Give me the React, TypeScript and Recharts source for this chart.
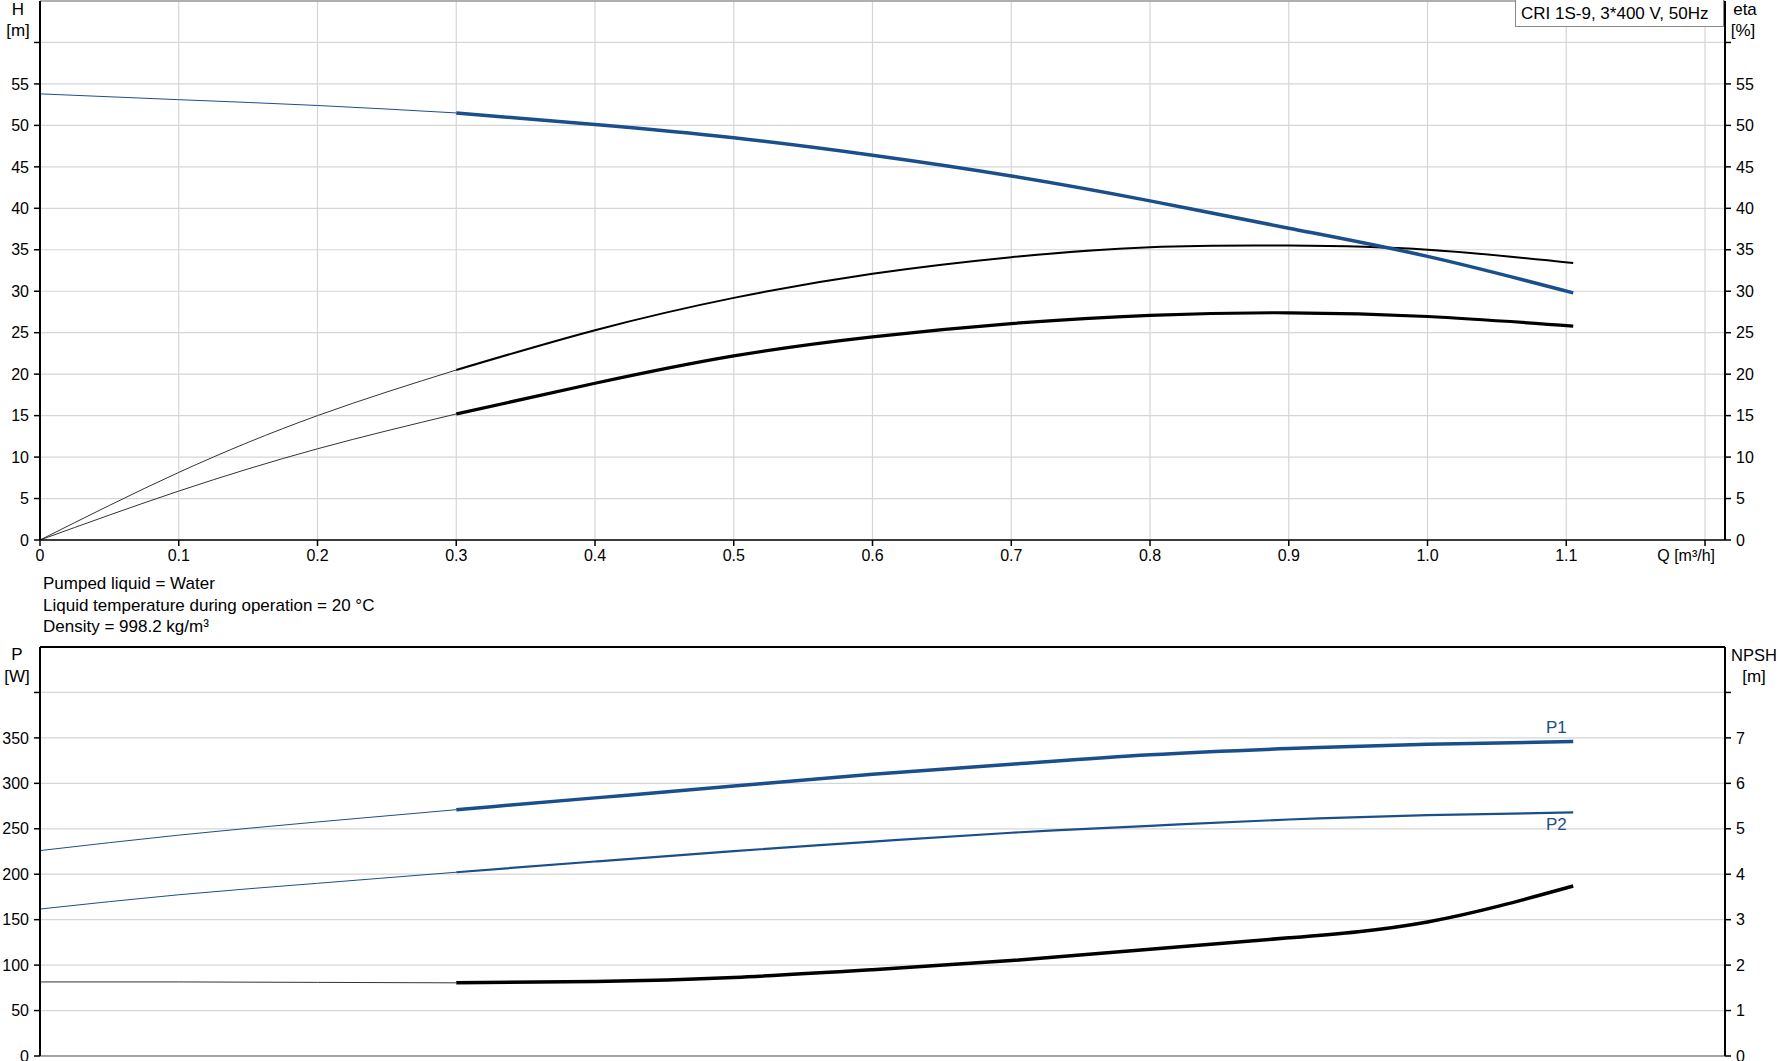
import React from "react";
import { LineChart, Line, XAxis, YAxis, CartesianGrid, ReferenceLine } from "recharts";

const FONT = "'Liberation Sans', Arial, sans-serif";
const BLUE = "#1a4f8c";

// flow rates Q [m³/h]
const flowThin = [0, 0.1, 0.2, 0.3];
const flowMain = [0.3, 0.4, 0.5, 0.6, 0.7, 0.8, 0.9, 1.0, 1.105];

// head H [m]
const headThin = [53.8, 53.1, 52.4, 51.5];
const headMain = [51.5, 50.1, 48.5, 46.4, 43.9, 40.9, 37.6, 34.2, 29.8];

// efficiency eta [%]
const etaPumpThin = [0, 8.15, 15.0, 20.5];
const etaPumpMain = [20.5, 25.3, 29.2, 32.1, 34.1, 35.3, 35.5, 35.0, 33.4];
const etaTotalThin = [0, 5.9, 11.0, 15.2];
const etaTotalMain = [15.2, 18.9, 22.2, 24.5, 26.1, 27.1, 27.4, 26.95, 25.8];

// power P [W]
const p1Thin = [226, 243, 257.5, 271];
const p1Main = [271, 284, 297, 310, 321, 331.4, 338.3, 343.1, 346];
const p2Thin = [161.7, 177.4, 190, 202.2];
const p2Main = [202.2, 214, 225.5, 235.8, 245.6, 253.3, 260.2, 265, 268];

// NPSH [m]
const npshThin = [1.63, 1.63, 1.62, 1.61];
const npshMain = [1.61, 1.64, 1.73, 1.9, 2.1, 2.35, 2.6, 2.95, 3.74];

const qTicks = [0, 0.1, 0.2, 0.3, 0.4, 0.5, 0.6, 0.7, 0.8, 0.9, 1.0, 1.1, 1.2];
const hTicks = [0, 5, 10, 15, 20, 25, 30, 35, 40, 45, 50, 55, 60];
const pTicks = [0, 50, 100, 150, 200, 250, 300, 350, 400];
const npshTicks = [0, 1, 2, 3, 4, 5, 6, 7, 8];

const pts = (q: number[], v: number[]) => q.map((x, i) => ({ q: x, v: v[i] }));

const tickStyle = { fill: "#000", fontSize: 16, fontFamily: FONT };
const axisBlack = { stroke: "#000", strokeWidth: 2 };
const tickBlack = { stroke: "#000", strokeWidth: 1.5 };

function QTick(props: any) {
  const { x, y, payload } = props;
  const v = payload.value;
  const last = v > 1.15;
  const label = v === 0 ? "0" : last ? "Q [m³/h]" : v.toFixed(1);
  return (
    <text x={last ? x + 10 : x} y={y} dy="0.71em" textAnchor={last ? "end" : "middle"} {...tickStyle}>
      {label}
    </text>
  );
}

const hideLast = (top: number) => (v: number) => (v === top ? "" : String(v));

const abs = (left: number, top: number, extra: React.CSSProperties = {}): React.CSSProperties => ({
  position: "absolute",
  left,
  top,
  fontFamily: FONT,
  fontSize: 17,
  lineHeight: "20px",
  color: "#000",
  whiteSpace: "nowrap",
  ...extra,
});

function curve(data: { q: number; v: number }[], axis: string, color: string, width: number, key: string) {
  return (
    <Line
      key={key}
      data={data}
      dataKey="v"
      yAxisId={axis}
      type="natural"
      stroke={color}
      strokeWidth={width}
      dot={false}
      activeDot={false}
      isAnimationActive={false}
    />
  );
}

export default function App() {
  return (
    <div style={{ position: "absolute", left: 0, top: 0, width: 1779, height: 1061, background: "#fff", overflow: "hidden" }}>
      {/* upper chart: H and eta */}
      <div style={{ position: "absolute", left: 0, top: 0 }}>
        <LineChart width={1779} height={580} margin={{ top: 1, right: 0, bottom: 0, left: 0 }}>
          <CartesianGrid yAxisId="left" stroke="#d6d6d6" strokeWidth={1.2} />
          <XAxis
            type="number"
            dataKey="q"
            domain={[0, 1.2144]}
            ticks={qTicks}
            allowDataOverflow
            interval={0}
            height={40}
            tick={<QTick />}
            tickSize={6}
            tickMargin={4}
            axisLine={{ stroke: "#000", strokeWidth: 1.5 }}
            tickLine={tickBlack}
          />
          <YAxis
            yAxisId="left"
            domain={[0, 65]}
            ticks={hTicks}
            allowDataOverflow
            interval={0}
            width={40}
            tick={tickStyle}
            tickFormatter={hideLast(60)}
            tickSize={6}
            tickMargin={5}
            axisLine={axisBlack}
            tickLine={tickBlack}
          />
          <YAxis
            yAxisId="right"
            orientation="right"
            domain={[0, 65]}
            ticks={hTicks}
            allowDataOverflow
            interval={0}
            width={54}
            tick={tickStyle}
            tickFormatter={hideLast(60)}
            tickSize={6}
            tickMargin={5}
            axisLine={axisBlack}
            tickLine={tickBlack}
          />
          <ReferenceLine yAxisId="left" y={65} stroke="#777" strokeWidth={1} />
          {curve(pts(flowThin, etaPumpThin), "right", "#333", 1, "e1t")}
          {curve(pts(flowMain, etaPumpMain), "right", "#000", 2, "e1")}
          {curve(pts(flowThin, etaTotalThin), "right", "#333", 1, "e2t")}
          {curve(pts(flowMain, etaTotalMain), "right", "#000", 3.2, "e2")}
          {curve(pts(flowThin, headThin), "left", BLUE, 1, "ht")}
          {curve(pts(flowMain, headMain), "left", BLUE, 3.5, "h")}
        </LineChart>
      </div>

      {/* lower chart: P1, P2 and NPSH */}
      <div style={{ position: "absolute", left: 0, top: 600 }}>
        <LineChart width={1779} height={461} margin={{ top: 47, right: 0, bottom: 0, left: 0 }}>
          <CartesianGrid yAxisId="left" stroke="#d6d6d6" strokeWidth={1.2} />
          <XAxis
            type="number"
            dataKey="q"
            domain={[0, 1.2144]}
            ticks={qTicks}
            allowDataOverflow
            interval={0}
            height={5}
            tick={false}
            tickLine={false}
            axisLine={{ stroke: "#888", strokeWidth: 1.5 }}
          />
          <YAxis
            yAxisId="left"
            domain={[0, 450]}
            ticks={pTicks}
            allowDataOverflow
            interval={0}
            width={40}
            tick={tickStyle}
            tickFormatter={hideLast(400)}
            tickSize={6}
            tickMargin={5}
            axisLine={axisBlack}
            tickLine={tickBlack}
          />
          <YAxis
            yAxisId="right"
            orientation="right"
            domain={[0, 9]}
            ticks={npshTicks}
            allowDataOverflow
            interval={0}
            width={54}
            tick={tickStyle}
            tickFormatter={hideLast(8)}
            tickSize={6}
            tickMargin={5}
            axisLine={axisBlack}
            tickLine={tickBlack}
          />
          <ReferenceLine yAxisId="left" y={450} stroke="#000" strokeWidth={2} />
          {curve(pts(flowThin, npshThin), "right", "#333", 1, "nt")}
          {curve(pts(flowMain, npshMain), "right", "#000", 3.5, "n")}
          {curve(pts(flowThin, p2Thin), "left", BLUE, 1, "p2t")}
          {curve(pts(flowMain, p2Main), "left", BLUE, 2.2, "p2")}
          {curve(pts(flowThin, p1Thin), "left", BLUE, 1, "p1t")}
          {curve(pts(flowMain, p1Main), "left", BLUE, 3.5, "p1")}
        </LineChart>
      </div>

      {/* axis titles */}
      <div style={abs(0, 0, { width: 36, textAlign: "center" })}>H</div>
      <div style={abs(0, 21, { width: 36, textAlign: "center" })}>[m]</div>
      <div style={abs(1727, 0, { width: 36, textAlign: "center" })}>eta</div>
      <div style={abs(1725, 21, { width: 36, textAlign: "center" })}>[%]</div>
      <div style={abs(0, 645, { width: 34, textAlign: "center" })}>P</div>
      <div style={abs(0, 667, { width: 34, textAlign: "center" })}>[W]</div>
      <div style={abs(1729, 645, { width: 50, textAlign: "center", fontSize: 16.5 })}>NPSH</div>
      <div style={abs(1729, 667, { width: 50, textAlign: "center" })}>[m]</div>

      {/* pump label box */}
      <div
        style={abs(1515, -1, {
          width: 209,
          height: 28,
          border: "1px solid #888",
          background: "#fff",
          lineHeight: "27px",
          paddingLeft: 5,
          boxSizing: "border-box",
        })}
      >
        CRI 1S-9, 3*400 V, 50Hz
      </div>

      {/* liquid info */}
      <div style={abs(43, 574)}>Pumped liquid = Water</div>
      <div style={abs(43, 596)}>Liquid temperature during operation = 20 °C</div>
      <div style={abs(43, 617)}>Density = 998.2 kg/m³</div>

      {/* curve names */}
      <div style={abs(1546, 718, { color: BLUE })}>P1</div>
      <div style={abs(1546, 815, { color: BLUE })}>P2</div>
    </div>
  );
}
